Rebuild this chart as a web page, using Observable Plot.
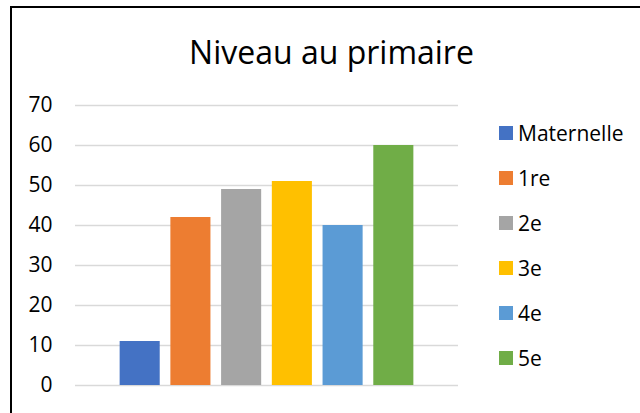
<!DOCTYPE html>
<html>
<head>
<meta charset="utf-8">
<script src="https://cdn.jsdelivr.net/npm/d3@7"></script>
<script src="https://cdn.jsdelivr.net/npm/@observablehq/plot@0.6"></script>
<style>
  html, body { margin: 0; padding: 0; background: #fff; }
  #wrap { position: relative; width: 640px; height: 413px; overflow: hidden; font-family: "Open Sans", sans-serif; }
  #frame { position: absolute; left: 10px; top: 6px; width: 700px; height: 500px; border-top: 2px solid #000; border-left: 2px solid #000; box-sizing: border-box; }
  #title { position: absolute; left: 0; width: 663px; top: 30px; text-align: center; font-size: 32px; color: #000; line-height: 44px; }
  #legend { position: absolute; left: 499px; top: 0; }
  .item { position: absolute; left: 0; display: flex; align-items: center; white-space: nowrap; font-size: 21px; color: #000; height: 26px; }
  .sw { width: 14px; height: 14px; margin-right: 5px; }
  #chart { position: absolute; left: 0; top: 0; }
</style>
</head>
<body>
<div id="wrap">
  <div id="chart"></div>
  <div id="frame"></div>
  <div id="title">Niveau au primaire</div>
  <div id="legend"></div>
</div>
<script>
const series = ["Maternelle", "1re", "2e", "3e", "4e", "5e"];
const values = [11, 42, 49, 51, 40, 60];
const colors = ["#4472C4", "#ED7D31", "#A5A5A5", "#FFC000", "#5B9BD5", "#70AD47"];
const yTicks = [0, 10, 20, 30, 40, 50, 60, 70];

const data = series.map((s, i) => ({ series: s, value: values[i] }));

const chart = Plot.plot({
  width: 640,
  height: 413,
  marginLeft: 75,
  marginRight: 182,
  marginTop: 105,
  marginBottom: 28,
  style: { fontFamily: "Open Sans, sans-serif", fontSize: "21px", color: "#000", background: "transparent" },
  x: { domain: series, paddingInner: 0.21, paddingOuter: 0.88, round: false, axis: null },
  y: { domain: [0, 70], ticks: yTicks, label: null },
  color: { domain: series, range: colors },
  marks: [
    Plot.ruleY(yTicks, { stroke: "#d9d9d9", strokeWidth: 1.5 }),
    Plot.barY(data, { x: "series", y: "value", fill: "series" }),
    Plot.axisY({ ticks: yTicks, tickSize: 0, tickPadding: 23, fontSize: 21, fill: "#000", label: null })
  ]
});
document.getElementById("chart").appendChild(chart);

const legend = d3.select("#legend");
series.forEach((s, i) => {
  const item = legend.append("div").attr("class", "item").style("top", (119.5 + i * 45.1) + "px");
  item.append("div").attr("class", "sw").style("background", colors[i]);
  item.append("span").text(s);
});
</script>
</body>
</html>
